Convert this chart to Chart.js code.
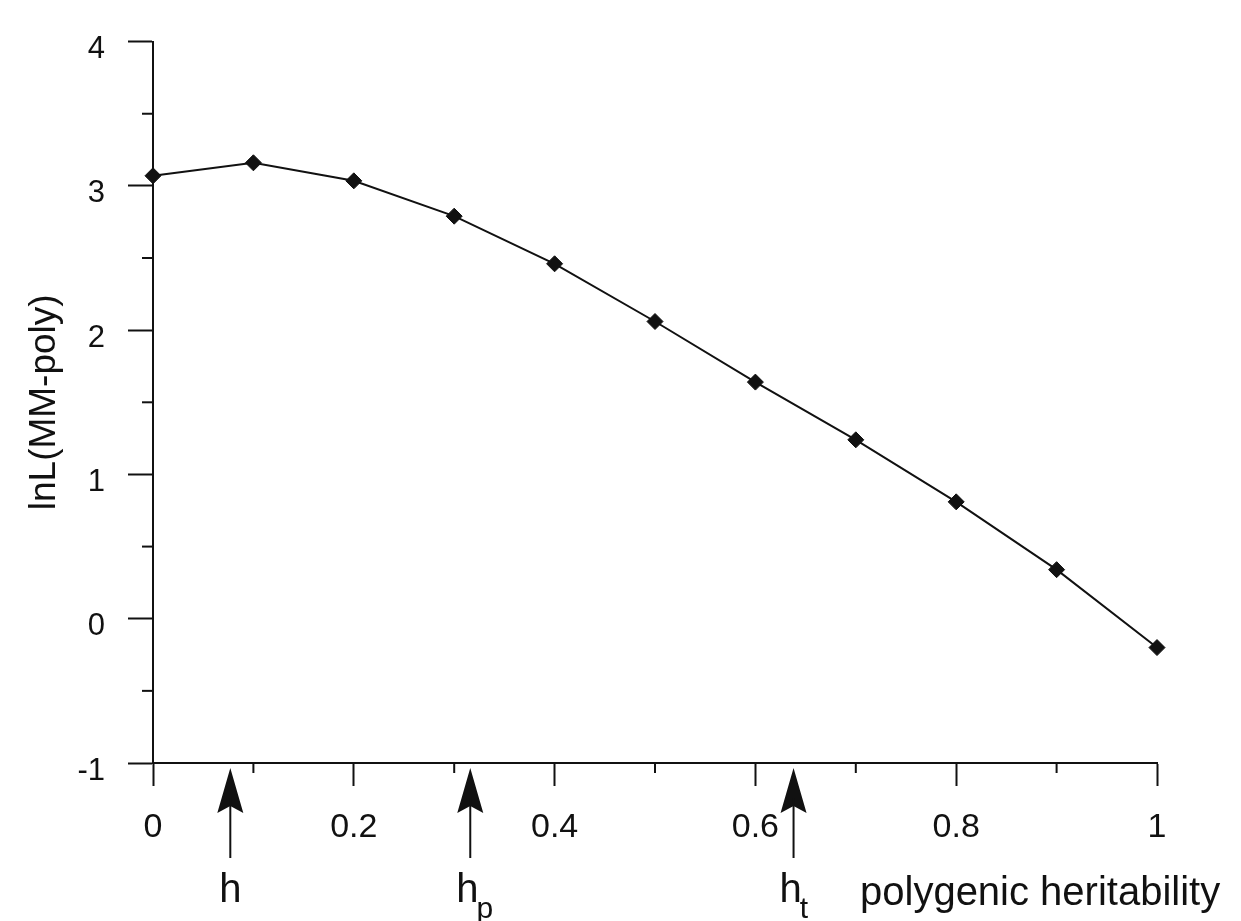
<!DOCTYPE html>
<html>
<head>
<meta charset="utf-8">
<script src="https://cdn.jsdelivr.net/npm/chart.js@4/dist/chart.umd.min.js"></script>
<style>
  html, body { margin: 0; padding: 0; background: #fff; }
  #wrap { width: 1241px; height: 921px; position: relative; }
</style>
</head>
<body>
<div id="wrap"><canvas id="chart"></canvas></div>
<script>
// values
const heritability = [0, 0.1, 0.2, 0.3, 0.4, 0.5, 0.6, 0.7, 0.8, 0.9, 1];
const lnL = [3.07, 3.16, 3.035, 2.79, 2.46, 2.06, 1.64, 1.24, 0.81, 0.34, -0.2];

const xRange = [0, 1];
const yRange = [-1, 4];

// arrows under the x axis
const arrowAt = [0.077, 0.316, 0.638];
const arrowMain = ["h", "h", "h"];
const arrowSub = ["", "p", "t"];

const ink = "#111";
const fontFamily = "'Liberation Sans', Arial, Helvetica, sans-serif";

// short unlabeled ticks + arrows + x caption
const extras = {
    id: "extras",
    afterDraw(chart) {
        const ctx = chart.ctx;
        const xs = chart.scales.x;
        const ys = chart.scales.y;
        const area = chart.chartArea;

        ctx.save();
        ctx.strokeStyle = ink;
        ctx.fillStyle = ink;
        ctx.lineWidth = 2;

        // minor ticks x (every 0.1)
        for (let i = 1; i < 10; i += 2) {
            const px = xs.getPixelForValue(i / 10);
            ctx.beginPath();
            ctx.moveTo(px, area.bottom);
            ctx.lineTo(px, area.bottom + 10);
            ctx.stroke();
        }
        // minor ticks y (every 0.5)
        for (let v = yRange[0] + 0.5; v < yRange[1]; v += 1) {
            const py = ys.getPixelForValue(v);
            ctx.beginPath();
            ctx.moveTo(area.left - 11, py);
            ctx.lineTo(area.left, py);
            ctx.stroke();
        }

        // arrows
        arrowAt.forEach((v, i) => {
            const px = xs.getPixelForValue(v);
            const tip = area.bottom + 5;

            ctx.beginPath();
            ctx.moveTo(px, tip);
            ctx.lineTo(px + 13, tip + 45);
            ctx.lineTo(px, tip + 38);
            ctx.lineTo(px - 13, tip + 45);
            ctx.closePath();
            ctx.fill();

            ctx.beginPath();
            ctx.moveTo(px, tip + 30);
            ctx.lineTo(px, tip + 90);
            ctx.stroke();

            ctx.font = "40px " + fontFamily;
            ctx.textBaseline = "alphabetic";
            const w = ctx.measureText(arrowMain[i]).width;
            const shift = arrowSub[i] ? -3 : 0;
            ctx.textAlign = "left";
            const left = px - w / 2 + shift;
            ctx.fillText(arrowMain[i], left, tip + 134);
            if (arrowSub[i]) {
                ctx.font = "30px " + fontFamily;
                ctx.fillText(arrowSub[i], left + w - 2, tip + 150);
            }
        });

        // x caption
        ctx.font = "40px " + fontFamily;
        ctx.textAlign = "left";
        ctx.textBaseline = "alphabetic";
        ctx.fillText("polygenic heritability", 860, 905);

        ctx.restore();
    }
};

const ctx = document.getElementById("chart").getContext("2d");

new Chart(ctx, {
    type: "line",
    data: {
        datasets: [{
            data: heritability.map((h, i) => ({ x: h, y: lnL[i] })),
            borderColor: ink,
            borderWidth: 2,
            backgroundColor: ink,
            pointStyle: "rectRot",
            pointRadius: 8,
            pointBorderWidth: 1,
            tension: 0,
            clip: false
        }]
    },
    options: {
        responsive: true,
        maintainAspectRatio: false,
        animation: false,
        layout: {
            padding: { left: 0, right: 84, top: 20, bottom: 0 }
        },
        plugins: {
            legend: { display: false },
            tooltip: { enabled: false }
        },
        scales: {
            x: {
                type: "linear",
                min: xRange[0],
                max: xRange[1],
                afterFit(scale) { scale.height = 158; },
                ticks: {
                    stepSize: 0.2,
                    color: ink,
                    padding: 21,
                    font: { size: 34, family: fontFamily },
                    callback: (v) => String(Number(v.toFixed(1)))
                },
                grid: {
                    drawOnChartArea: false,
                    tickLength: 23,
                    tickWidth: 2,
                    tickColor: ink
                },
                border: { color: ink, width: 2 }
            },
            y: {
                min: yRange[0],
                max: yRange[1],
                afterFit(scale) { scale.width = 153; },
                ticks: {
                    stepSize: 1,
                    color: ink,
                    padding: 23,
                    labelOffset: 8,
                    font: { size: 31, family: fontFamily }
                },
                grid: {
                    drawOnChartArea: false,
                    tickLength: 25,
                    tickWidth: 2,
                    tickColor: ink
                },
                border: { color: ink, width: 2 },
                title: {
                    display: true,
                    text: "lnL(MM-poly)",
                    color: ink,
                    padding: { top: 23, bottom: 0 },
                    font: { size: 37, family: fontFamily }
                }
            }
        }
    },
    plugins: [extras]
});
</script>
</body>
</html>
